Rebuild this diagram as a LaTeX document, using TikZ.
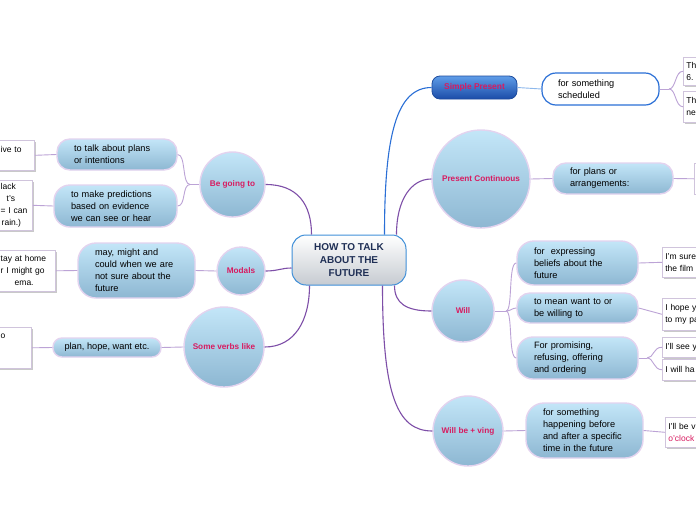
\documentclass[tikz,border=0pt]{standalone}
\usepackage{fontspec}
\setmainfont{Liberation Sans}
\usetikzlibrary{shadows,calc}
\definecolor{crim}{HTML}{D81B60}
\definecolor{navy}{HTML}{1F2F55}
\definecolor{mainln}{HTML}{7E4FA8}
\definecolor{subln}{HTML}{BCA3D6}
\definecolor{lav}{HTML}{E3D3EF}
\definecolor{btop}{HTML}{C3E6F8}
\definecolor{bbot}{HTML}{8DB7D2}
\definecolor{spblue}{HTML}{2A6FD6}
\definecolor{splight}{HTML}{8DB8EC}
\definecolor{sptop}{HTML}{5F9DE8}
\definecolor{spbot}{HTML}{1B4CA8}
\definecolor{spdark}{HTML}{1E4C9E}
\definecolor{leafln}{HTML}{D0C4DC}
\definecolor{ctrbot}{HTML}{C6CBD1}
\definecolor{ctrln}{HTML}{3F8FD8}
\tikzset{
  circ/.style={circle, draw=lav, line width=1.4pt, top color=btop, bottom color=bbot,
    inner sep=0pt, font=\fontsize{8.2}{9.5}\selectfont\bfseries, text=crim, align=center},
  subn/.style={rectangle, draw=lav, line width=1.4pt, top color=btop, bottom color=bbot,
    inner xsep=17pt, inner ysep=0pt, font=\fontsize{9.2}{12}\selectfont, align=left},
  leaf/.style={rectangle, draw=leafln, line width=0.6pt, fill=white,
    drop shadow={shadow xshift=1.2pt, shadow yshift=-1.2pt, fill=black!35, opacity=0.6},
    inner xsep=3pt, inner ysep=0pt, font=\fontsize{8.5}{12}\selectfont, align=left},
  mline/.style={draw=mainln, line width=1.1pt},
  sline/.style={draw=subln, line width=0.9pt},
}
\begin{document}
\begin{tikzpicture}[x=1pt,y=-1pt]
\fill[white] (0,0) rectangle (696,520);
\useasboundingbox (0,0) rectangle (696,520);

% centre
\node[rectangle, rounded corners=14pt, draw=ctrln, line width=1pt, top color=white, bottom color=ctrbot,
  minimum width=114pt, minimum height=50pt, align=center, text=navy,
  font=\fontsize{10}{13}\selectfont\bfseries] (c) at (349,260) {HOW TO TALK\\ABOUT THE\\FUTURE};

% main circles
\node[circ, minimum size=65pt] (bg) at (232.5,184.5) {Be going to};
\node[circ, minimum size=48pt] (mod) at (241,271) {Modals};
\node[circ, minimum size=80pt] (svl) at (224,347) {Some verbs like};
\node[circ, minimum size=98pt] (pc) at (481,179) {Present Continuous};
\node[circ, minimum size=62pt] (will) at (463,311) {Will};
\node[circ, minimum size=70pt] (wbv) at (468,431) {Will be + ving};
\node[rectangle, rounded corners=8pt, draw=spdark, line width=0.8pt, top color=sptop, bottom color=spbot,
  minimum width=85pt, minimum height=23pt, inner sep=0pt, text=crim,
  font=\fontsize{8.4}{9.5}\selectfont\bfseries] (sp) at (474.5,87.5) {Simple Present};

% sub nodes
\node[rectangle, rounded corners=14pt, draw=spblue, line width=1.2pt, fill=white,
  inner xsep=16pt, inner ysep=0pt, align=left, font=\fontsize{9.2}{12}\selectfont,
  minimum width=117pt, minimum height=32pt, text width=85pt] (s1) at (600.5,89) {for something\\scheduled};
\node[subn, rounded corners=13pt, minimum width=120pt, minimum height=31pt, text width=86pt] (p1) at (613,178.5) {for plans or\\arrangements:};
\node[subn, rounded corners=13pt, minimum width=120pt, minimum height=31pt, text width=86pt] (b1) at (117,154.5) {to talk about plans\\or intentions};
\node[subn, rounded corners=16pt, minimum width=123pt, minimum height=42pt, text width=89pt] (b2) at (115.5,206) {to make predictions\\based on evidence\\we can see or hear};
\node[subn, rounded corners=18pt, minimum width=117pt, minimum height=55pt, text width=83pt] (m1) at (136.5,270.5) {may, might and\\could when we are\\not sure about the\\future};
\node[subn, rounded corners=9pt, minimum width=108pt, minimum height=19pt, inner xsep=4pt, align=center] (v1) at (107,347.5) {plan, hope, want etc.};
\node[subn, rounded corners=17pt, minimum width=121pt, minimum height=44pt, text width=87pt] (w1) at (577.5,263) {for\ \ expressing\\beliefs about the\\future};
\node[subn, rounded corners=13pt, minimum width=121pt, minimum height=30pt, text width=87pt] (w2) at (577.5,308) {to mean want to or\\be willing to};
\node[subn, rounded corners=16pt, minimum width=121pt, minimum height=42pt, text width=87pt] (w3) at (577.5,358) {For promising,\\refusing, offering\\and ordering};
\node[subn, rounded corners=18pt, minimum width=117pt, minimum height=55pt, text width=83pt] (wb1) at (584.5,430.5) {for something\\happening before\\and after a specific\\time in the future};

% leaves, left
\node[leaf, anchor=north east, minimum width=37pt, minimum height=30pt, text width=31pt] (l1) at (35,140) {ive to\\\mbox{}};
\node[leaf, anchor=north east, minimum width=35pt, minimum height=50pt, text width=29pt] (l2) at (33,180) {lack\\\hspace*{6pt}t's\\= I can\\\hspace*{1pt}rain.)};
\node[leaf, anchor=north east, minimum width=58pt, minimum height=41pt, text width=52pt] (l3) at (56,250) {tay at home\\r I might go\\\hspace*{14pt}ema.};
\node[leaf, anchor=north east, minimum width=34pt, minimum height=41pt, text width=28pt] (l4) at (32,327) {o\\\mbox{}\\\mbox{}};

% leaves, right
\node[leaf, anchor=north west, minimum width=40pt, minimum height=28pt, text width=34pt] (r1) at (683,57) {Th\\6.};
\node[leaf, anchor=north west, minimum width=40pt, minimum height=31pt, text width=34pt] (r2) at (683,91) {Th\\ne};
\node[leaf, anchor=north west, minimum width=40pt, minimum height=31pt, text width=34pt] (r3) at (694,163) {};
\node[leaf, anchor=north west, minimum width=60pt, minimum height=30pt, text width=54pt] (r4) at (662,247) {I'm sure\\the film};
\node[leaf, anchor=north west, minimum width=60pt, minimum height=32pt, text width=54pt] (r5) at (662,298) {I hope yo\\to my pa};
\node[leaf, anchor=north west, minimum width=60pt, minimum height=20pt, text width=54pt] (r6) at (662,337) {I'll see y};
\node[leaf, anchor=north west, minimum width=60pt, minimum height=21pt, text width=54pt] (r7) at (662,359) {I will ha};
\node[leaf, anchor=north west, minimum width=60pt, minimum height=30pt, text width=54pt] (r8) at (665,417) {I'll be v\\\textcolor{crim}{o'clock}};

% main connectors
\draw[mline] ([xshift=20pt]c.north west) .. controls +(0,-30) and +(32,0) .. (bg.east);
\draw[mline] ([yshift=-8pt]c.west) .. controls +(-10,0) and +(12,0) .. (mod.east);
\draw[mline] ([xshift=18pt]c.south west) .. controls +(0,35) and +(30,0) .. (svl.east);
\draw[line width=1.1pt, draw=spblue] ([xshift=-22pt]c.north east) .. controls +(0,-100) and +(-35,0) .. (sp.west);
\draw[mline] ([xshift=-10pt]c.north east) .. controls +(0,-35) and +(-20,0) .. (pc.west);
\draw[mline] ([xshift=-12pt]c.south east) .. controls +(0,18) and +(-25,0) .. (will.west);
\draw[mline] ([xshift=-24pt]c.south east) .. controls +(0,110) and +(-35,0) .. (wbv.west);

% sub connectors
\coordinate (jb) at (190,184.5);
\draw[sline] (bg.west) -- (jb);
\draw[sline] (jb) .. controls (182,184.5) and (186,154.5) .. (b1.east);
\draw[sline] (jb) .. controls (182,184.5) and (186,206) .. (b2.east);
\draw[sline] (mod.west) -- (m1.east);
\draw[sline] (svl.west) -- (v1.east);
\draw[line width=0.9pt, draw=splight] (sp.east) -- (s1.west);
\draw[sline] (pc.east) -- (p1.west);
\draw[sline] (wbv.east) -- (wb1.west);
\coordinate (jw) at (506,311);
\draw[sline] (will.east) -- (jw);
\draw[sline] (jw) .. controls (513,311) and (508,263) .. (w1.west);
\draw[sline] (jw) .. controls (511,311) and (512,308) .. (w2.west);
\draw[sline] (jw) .. controls (513,311) and (508,358) .. (w3.west);

% leaf connectors
\coordinate (js) at (669,89);
\draw[sline] (s1.east) -- (js);
\draw[sline] (js) .. controls (676,89) and (675,71) .. (r1.west);
\draw[sline] (js) .. controls (676,89) and (675,106.5) .. (r2.west);
\draw[sline] (p1.east) -- (r3.west);
\draw[sline] (w1.east) -- (r4.west);
\draw[sline] (w2.east) -- (r5.west);
\coordinate (j3) at (647,358);
\draw[sline] (w3.east) -- (j3);
\draw[sline] (j3) .. controls (654,358) and (653,347) .. (r6.west);
\draw[sline] (j3) .. controls (654,358) and (653,369.5) .. (r7.west);
\draw[sline] (wb1.east) -- (r8.west);
\draw[sline] (b1.west) -- (l1.east);
\draw[sline] (b2.west) -- (l2.east);
\draw[sline] (m1.west) -- (l3.east);
\draw[sline] (v1.west) -- (l4.east);
\end{tikzpicture}
\end{document}
